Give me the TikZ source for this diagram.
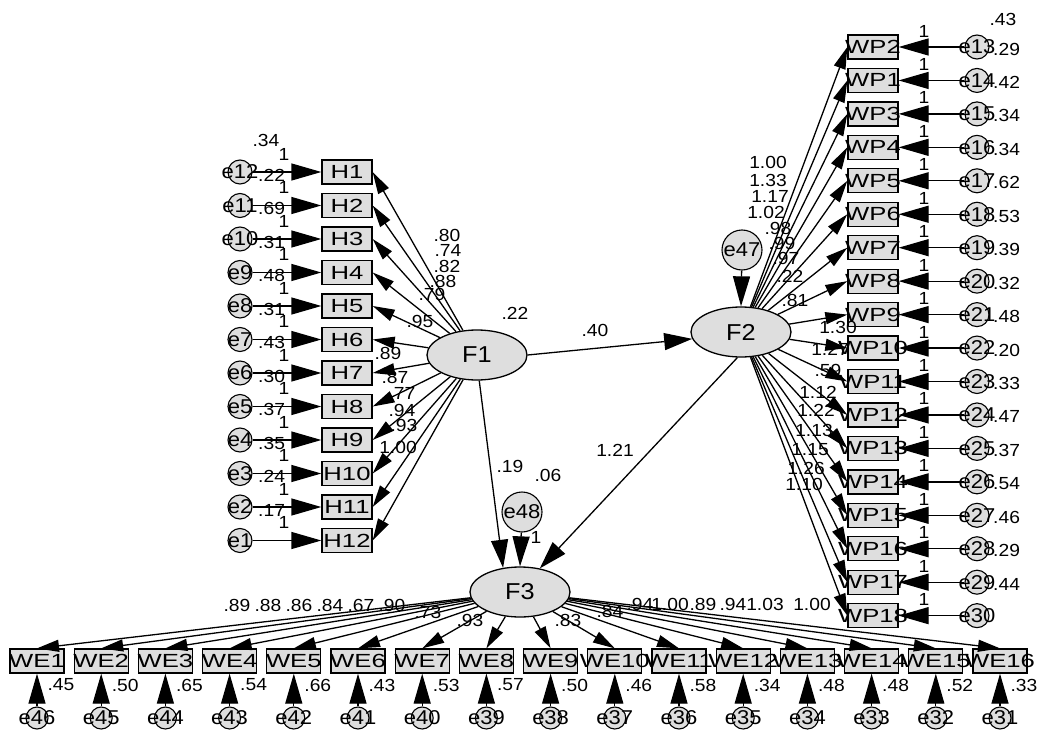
\documentclass[tikz,border=0pt]{standalone}
\usepackage{fontspec}
\setmainfont{Liberation Sans}[FakeStretch=1.1]
\newfontfamily\boxfont{Liberation Sans}[FakeStretch=1.35]
\usetikzlibrary{arrows.meta,shapes.geometric}
\definecolor{boxfill}{RGB}{222,222,222}
\begin{document}
\begin{tikzpicture}[x=1pt,y=-1pt,
  obs/.style={draw, line width=1.3pt, fill=boxfill, minimum width=50pt, minimum height=24pt, inner sep=0pt},
  obsw/.style={obs, minimum width=54pt},
  otxt/.style={font=\boxfont\fontsize{19}{19}\selectfont, inner sep=0pt},
  lat/.style={ellipse, draw, line width=1.3pt, fill=boxfill, minimum width=100pt, minimum height=50pt, inner sep=0pt, font=\fontsize{23}{23}\selectfont},
  err/.style={circle, draw, line width=1.1pt, fill=boxfill, minimum size=24pt, inner sep=0pt},
  bigerr/.style={circle, draw, line width=1.1pt, fill=boxfill, minimum size=40pt, inner sep=0pt},
  etxt/.style={font=\fontsize{20}{20}\selectfont, inner sep=0pt},
  num/.style={font=\fontsize{17.5}{17.5}\selectfont, inner sep=0pt},
  load/.style={line width=1.3pt, -{Triangle[length=22pt,width=12pt]}},
  errarr/.style={line width=1.3pt, -{Triangle[length=30pt,width=17pt]}},
  strarr/.style={line width=1.3pt, -{Triangle[length=28pt,width=17pt]}}
]
\useasboundingbox (0,0) rectangle (1041,733);

% latent factors
\node[lat] (F1) at (477,355) {F1};
\node[lat] (F2) at (741,332) {F2};
\node[lat] (F3) at (520,592) {F3};
\node[bigerr] (e47) at (742,250) {};
\node[etxt] at (e47) {e47};
\node[bigerr] (e48) at (522,512) {};
\node[etxt] at (e48) {e48};

% H indicators
\foreach \i/\v in {1/.22,2/.69,3/.31,4/.48,5/.31,6/.43,7/.30,8/.37,9/.35,10/.24,11/.17,12/}{
  \pgfmathsetmacro\yy{172+(\i-1)*33.5}
  \pgfmathtruncatemacro\en{13-\i}
  \node[obs] (H\i) at (347,\yy) {};
  \node[otxt] at (H\i) {H\i};
  \node[err] (e\en) at (240,\yy) {};
  \node[etxt] at (e\en) {e\en};
  \draw[errarr] (e\en) -- (H\i);
  \draw[load] (F1) -- (H\i.east);
  \node[num, anchor=west] at (258,\yy+3) {\v};
  \node[num] at (284,\yy-18) {1};
}
\node[num] at (266,140) {.34};

% WP indicators
\foreach \k/\n/\en/\v in {0/2/13/.29,1/1/14/.42,2/3/15/.34,3/4/16/.34,4/5/17/.62,5/6/18/.53,6/7/19/.39,7/8/20/.32,8/9/21/.48,9/10/22/.20,10/11/23/.33,11/12/24/.47,12/13/25/.37,13/14/26/.54,14/15/27/.46,15/16/28/.29,16/17/29/.44,17/18/30/}{
  \pgfmathsetmacro\yy{47+\k*33.45}
  \node[obs] (WP\n) at (873,\yy) {};
  \node[otxt] at (WP\n) {WP\n};
  \node[err] (e\en) at (977,\yy) {};
  \node[etxt] at (e\en) {e\en};
  \draw[errarr] (e\en) -- (WP\n);
  \draw[load] (F2) -- (WP\n.west);
  \node[num, anchor=west] at (993,\yy+2) {\v};
  \node[num] at (924,\yy-16) {1};
}
\node[num] at (1003,19) {.43};

% WE indicators
\foreach \i/\en/\v in {1/46/.45,2/45/.50,3/44/.65,4/43/.54,5/42/.66,6/41/.43,7/40/.53,8/39/.57,9/38/.50,10/37/.46,11/36/.58,12/35/.34,13/34/.48,14/33/.48,15/32/.52,16/31/.33}{
  \pgfmathsetmacro\xx{37+(\i-1)*64.2}
  \node[obsw] (WE\i) at (\xx,661) {};
  \node[otxt] at (WE\i) {WE\i};
  \node[err, minimum size=22pt] (e\en) at (\xx,718) {};
  \node[etxt] at (e\en) {e\en};
  \draw[errarr] (e\en) -- (WE\i);
  \draw[load] (F3) -- (WE\i.north);
  \node[num] at (\xx+24,685) {\v};
}

% structural paths
\draw[strarr] (F1.east) -- (F2.188);
\draw[strarr] (F1.275) -- (F3.125);
\draw[strarr] (F2.262) -- (F3.50);
\draw[errarr] (e47) -- (F2.north);
\draw[errarr] (e48) -- (F3.north);

% structural labels
\node[num] at (515,313) {.22};
\node[num] at (595,330) {.40};
\node[num] at (510,466) {.19};
\node[num] at (548,475) {.06};
\node[num] at (615,450) {1.21};
\node[num] at (536,537) {1};

% F1 loadings
\foreach \t/\px/\py in {.80/447/235,.74/448/250,.82/447/266,.88/443/281,.79/432/294,.95/420/321,.89/388/353,.87/395/377,.77/402/393,.94/402/410,.93/404/425,1.00/398/447}{
  \node[num] at (\px,\py) {\t};
}
% F2 loadings
\foreach \t/\px/\py in {1.00/768/162,1.33/768/180,1.17/770/196,1.02/766/212,.98/778/228,.99/782/243,.97/786/258,.22/790/276,.81/795/300,1.30/838/327,1.27/830/349,.59/828/370,1.12/818/392,1.22/816/410,1.13/814/430,1.15/810/450,1.26/806/468,1.10/804/484}{
  \node[num] at (\px,\py) {\t};
}
% F3 loadings
\foreach \t/\px/\py in {.89/237/605,.88/268/605,.86/299/605,.84/330/605,.67/361/605,.90/392/605,.73/428/612,.93/470/620,.83/568/620,.84/610/611,.94/640/604,1.00/670/604,.89/703/604,.94/733/604,1.03/765/604,1.00/812/604}{
  \node[num] at (\px,\py) {\t};
}
\end{tikzpicture}
\end{document}
